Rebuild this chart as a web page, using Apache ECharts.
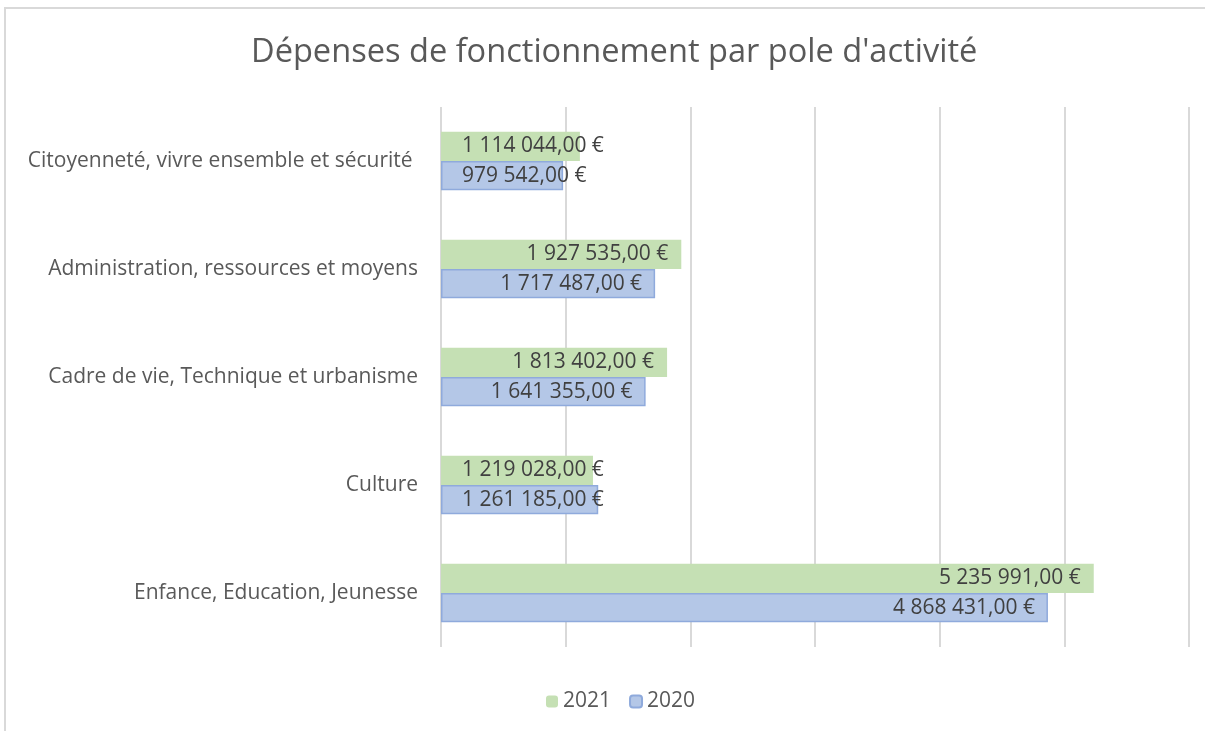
<!DOCTYPE html>
<html>
<head>
<meta charset="utf-8">
<script src="https://cdn.jsdelivr.net/npm/echarts@6/dist/echarts.min.js"></script>
<style>
  html, body { margin: 0; padding: 0; background: #fff; }
  #chart { width: 1205px; height: 731px; }
  .frame {
    position: absolute; left: 4px; top: 7px; width: 1300px; height: 800px;
    border: 2px solid #d9d9d9; pointer-events: none; box-sizing: border-box;
  }
</style>
</head>
<body>
<div id="chart"></div>
<div class="frame"></div>
<script>
// categories, bottom to top (ECharts draws the first category at the bottom)
const categories = [
  'Enfance, Education, Jeunesse',
  'Culture',
  'Cadre de vie, Technique et urbanisme',
  'Administration, ressources et moyens',
  'Citoyenneté, vivre ensemble et sécurité '
]
const values2021 = [5235991, 1219028, 1813402, 1927535, 1114044]
const values2020 = [4868431, 1261185, 1641355, 1717487, 979542]

// montant au format français : 1 114 044,00 €
function euro(v) {
  const s = Math.round(v).toString().replace(/\B(?=(\d{3})+(?!\d))/g, ' ')
  return s + ',00 €'
}

// short bars: Excel pushes the label to the start of the bar
function toItems(values) {
  return values.map(v => ({
    value: v,
    label: v < 1500000
      ? { position: 'insideLeft', distance: 21 }
      : { position: 'insideRight', distance: 13 }
  }))
}

const chart = echarts.init(document.getElementById('chart'))
const fontFamily = '"Open Sans", sans-serif'

const option = {
  animation: false,
  textStyle: { fontFamily },
  title: {
    text: "Dépenses de fonctionnement par pole d'activité",
    left: 246,
    top: 31,
    textStyle: { fontSize: 32.6, fontWeight: 'normal', color: '#595959', fontFamily }
  },
  legend: {
    data: ['2021', '2020'],
    left: 541,
    top: 686,
    itemWidth: 12,
    itemHeight: 12,
    itemGap: 18,
    textStyle: { fontSize: 21, color: '#595959', fontFamily }
  },
  grid: {
    left: 441,
    right: 16,
    top: 107,
    bottom: 84,
    containLabel: false
  },
  xAxis: {
    type: 'value',
    min: 0,
    max: 6000000,
    interval: 1000000,
    axisLabel: { show: false },
    axisLine: { show: false },
    axisTick: { show: false },
    splitLine: { show: true, lineStyle: { color: '#d9d9d9', width: 2 } }
  },
  yAxis: {
    type: 'category',
    data: categories,
    axisLine: { show: false },
    axisTick: { show: false },
    axisLabel: { fontSize: 21, color: '#595959', margin: 23, fontFamily }
  },
  series: [
    {
      name: '2021',
      type: 'bar',
      data: toItems(values2021),
      barCategoryGap: '46%',
      barGap: '0%',
      itemStyle: { color: '#c5e0b4' },
      label: {
        show: true,
        fontSize: 21,
        color: '#404040',
        fontFamily,
        formatter: p => euro(p.value)
      }
    },
    {
      name: '2020',
      type: 'bar',
      data: toItems(values2020),
      barCategoryGap: '46%',
      barGap: '0%',
      itemStyle: { color: '#b4c7e7', borderColor: '#8faadc', borderWidth: 1.5 },
      label: {
        show: true,
        fontSize: 21,
        color: '#404040',
        fontFamily,
        formatter: p => euro(p.value)
      }
    }
  ]
}

chart.setOption(option)
</script>
</body>
</html>
